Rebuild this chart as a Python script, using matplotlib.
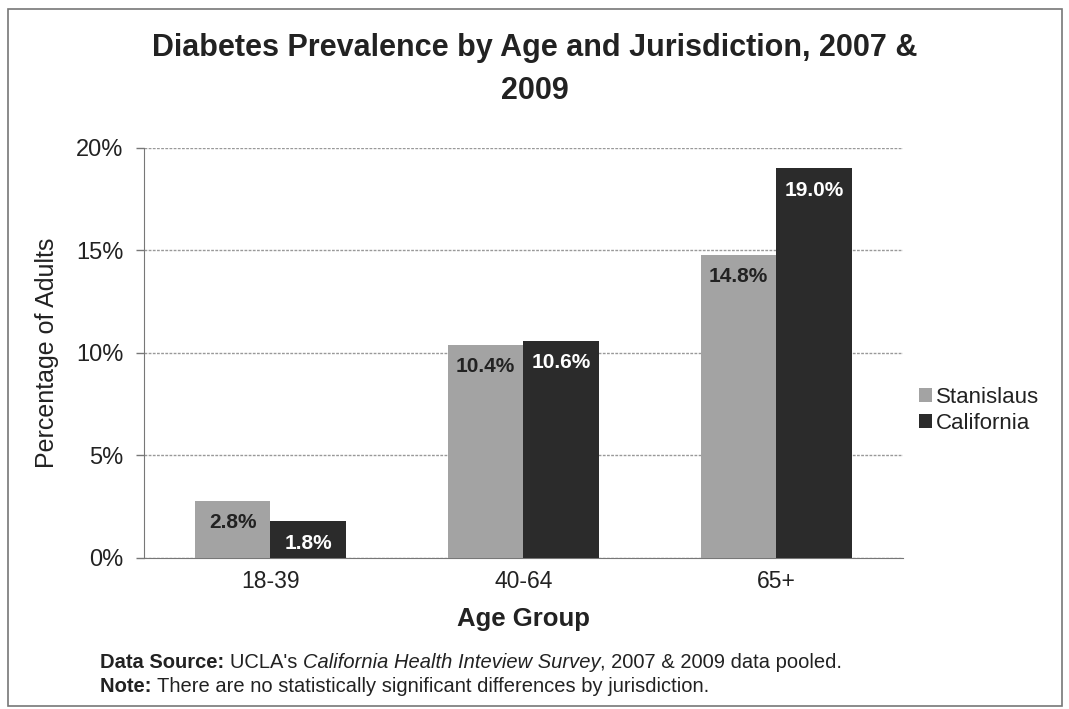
import matplotlib
matplotlib.use("Agg")
import matplotlib.pyplot as plt
from matplotlib.patches import Rectangle
import numpy as np

plt.rcParams["font.family"] = ["Liberation Sans", "DejaVu Sans"]

# data
age_groups = ["18-39", "40-64", "65+"]
stanislaus = [2.8, 10.4, 14.8]
california = [1.8, 10.6, 19.0]
series_names = ["Stanislaus", "California"]
y_ticks = [0, 5, 10, 15, 20]

GRAY = "#a3a3a3"
DARK = "#2b2b2b"
TXT = "#222222"

fig = plt.figure(figsize=(10.69, 7.09), dpi=100, facecolor="white")
ax = fig.add_axes([0.1347, 0.2130, 0.7100, 0.5783])

x = np.arange(len(age_groups))
w = 0.3
b1 = ax.bar(x - w / 2, stanislaus, w, color=GRAY, label=series_names[0], zorder=3)
b2 = ax.bar(x + w / 2, california, w, color=DARK, label=series_names[1], zorder=3)

for bars, vals, c in [(b1, stanislaus, TXT), (b2, california, "white")]:
    for rect, v in zip(bars, vals):
        ax.annotate(f"{v:.1f}%", (rect.get_x() + rect.get_width() / 2, v),
                    xytext=(0, -16), textcoords="offset points", ha="center", va="center",
                    fontsize=15, fontweight="bold", color=c, zorder=4)

ax.set_xlim(-0.5, 2.5)
ax.set_ylim(0, 20)
ax.set_yticks(y_ticks)
ax.set_yticklabels([f"{t}%" for t in y_ticks], fontsize=17, color=TXT)
ax.set_xticks(x)
ax.set_xticklabels(age_groups, fontsize=16.5, color=TXT)
ax.tick_params(axis="x", length=0, pad=9)
ax.tick_params(axis="y", length=6, width=1, color="#777777", pad=9)
ax.grid(axis="y", color="#999999", linewidth=1, linestyle=(0, (2, 1)), zorder=0)
for s in ["top", "right"]:
    ax.spines[s].set_visible(False)
ax.spines["left"].set_color("#777777")
ax.spines["bottom"].set_color("#777777")

ax.set_ylabel("Percentage of Adults", fontsize=18, color=TXT, labelpad=12)
ax.set_xlabel("Age Group", fontsize=18.5, fontweight="bold", color=TXT, labelpad=10)

fig.text(0.5, 0.932, "Diabetes Prevalence by Age and Jurisdiction, 2007 &",
         ha="center", va="center", fontsize=22, fontweight="bold", color=TXT)
fig.text(0.5, 0.871, "2009", ha="center", va="center", fontsize=22,
         fontweight="bold", color=TXT)

leg = ax.legend(loc="center left", bbox_to_anchor=(1.0, 0.36), frameon=False,
                fontsize=16, handlelength=0.6, handleheight=0.6, handletextpad=0.2,
                labelspacing=0.25, borderaxespad=0.3)
for t in leg.get_texts():
    t.set_color(TXT)

# footnote with mixed styles
renderer = fig.canvas.get_renderer()


def line_of_parts(y, parts):
    xpos = 100
    for txt, style in parts:
        kw = dict(fontsize=14.5, color=TXT, va="center", ha="left")
        if style == "b":
            kw["fontweight"] = "bold"
        elif style == "i":
            kw["fontstyle"] = "italic"
        t = fig.text(xpos / 1069, 1 - y / 709, txt, **kw)
        bb = t.get_window_extent(renderer=renderer)
        xpos += bb.width


line_of_parts(662, [("Data Source: ", "b"), ("UCLA's ", "n"),
                    ("California Health Inteview Survey", "i"),
                    (", 2007 & 2009 data pooled.", "n")])
line_of_parts(686, [("Note: ", "b"),
                    ("There are no statistically significant differences by jurisdiction.", "n")])

# outer frame
fig.add_artist(Rectangle((8 / 1069, 3 / 709), 1054 / 1069, 697 / 709,
                         transform=fig.transFigure, fill=False,
                         edgecolor="#777777", linewidth=1.2))

fig.savefig("out.png", dpi=100, facecolor="white")
